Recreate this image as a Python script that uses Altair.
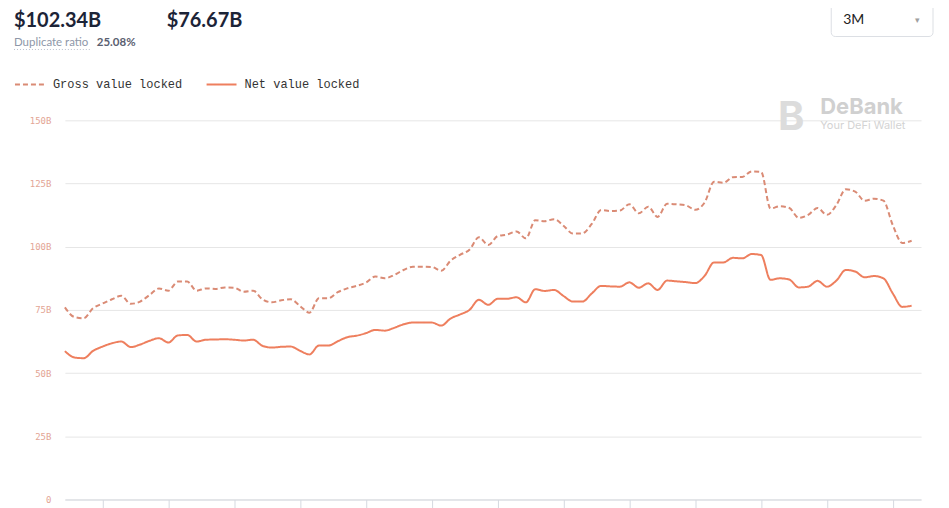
import altair as alt
import pandas as pd

days = list(range(91))
gross = [76.0, 72.2, 71.7, 75.7, 77.5, 79.2, 80.6, 77.4, 78.3, 80.9,
         83.5, 82.6, 86.2, 86.2, 82.6, 83.5, 83.3, 83.9, 83.8, 82.2,
         82.6, 79.2, 78.0, 78.8, 79.2, 76.5, 73.9, 79.6, 79.6, 82.0,
         83.5, 84.5, 85.8, 88.2, 87.5, 88.8, 90.8, 92.1, 92.1, 92.0,
         90.5, 94.5, 96.8, 98.8, 103.7, 100.7, 104.2, 104.8, 106.0, 103.3,
         110.5, 110.1, 110.9, 108.3, 105.2, 105.3, 109.0, 114.5, 114.1, 114.3,
         116.8, 113.2, 115.8, 111.8, 117.0, 116.8, 116.4, 114.6, 117.5, 125.7,
         125.3, 127.5, 127.6, 129.8, 129.6, 115.1, 116.0, 115.3, 111.4, 112.6,
         115.3, 112.6, 116.5, 122.7, 121.8, 118.2, 119.0, 118.2, 108.5, 101.5,
         102.34]
net = [58.7, 56.2, 55.9, 58.8, 60.5, 61.8, 62.5, 60.3, 61.3, 62.8,
       63.8, 62.1, 64.9, 65.1, 62.5, 63.2, 63.3, 63.4, 63.2, 62.9,
       63.2, 60.8, 60.1, 60.4, 60.5, 58.8, 57.4, 60.9, 60.9, 62.6,
       64.2, 64.8, 65.8, 67.1, 66.8, 67.9, 69.3, 70.0, 70.0, 70.0,
       68.8, 71.6, 73.2, 75.0, 79.0, 77.0, 79.4, 79.4, 80.0, 78.0,
       83.2, 82.5, 82.9, 80.5, 78.3, 78.3, 81.5, 84.5, 84.3, 84.2,
       85.9, 83.8, 85.5, 82.9, 86.6, 86.3, 86.0, 85.6, 88.5, 93.8,
       93.8, 95.6, 95.4, 97.1, 96.7, 86.9, 87.5, 87.0, 83.9, 84.2,
       86.5, 84.2, 86.6, 90.8, 90.2, 87.9, 88.4, 87.5, 81.5, 76.2,
       76.67]
series_names = ["Gross value locked", "Net value locked"]
series_colors = ["#DA8B75", "#EE7F5E"]
y_ticks = [0, 25, 50, 75, 100, 125, 150]
x_ticks = [4, 11, 18, 25, 32, 39, 46, 53, 60, 67, 74, 81, 88]

gross_total = "$102.34B"
net_total = "$76.67B"
dup_label = "Duplicate ratio"
dup_value = "25.08%"
range_label = "3M"

df = pd.DataFrame({
    "day": days * 2,
    "value": gross + net,
    "series": [series_names[0]] * len(days) + [series_names[1]] * len(days),
})

x_scale = alt.Scale(domain=[0, 91], nice=False, zero=False)
y_scale = alt.Scale(domain=[0, 150], nice=False)

legend_cfg = dict(title=None, orient="none", direction="horizontal",
                  legendX=-51, legendY=-52,
                  symbolType="stroke", symbolSize=900,
                  symbolStrokeWidth=2, labelFont="Liberation Mono",
                  labelFontSize=12, labelColor="#333333",
                  labelOffset=7, columnPadding=20)

lines = alt.Chart(df).mark_line(interpolate="monotone", strokeWidth=2).encode(
    x=alt.X("day:Q", scale=x_scale,
            axis=alt.Axis(title=None, values=x_ticks, grid=False, labels=False,
                          domainColor="#d5d9e0", tickColor="#d5d9e0", tickSize=8)),
    y=alt.Y("value:Q", scale=y_scale,
            axis=alt.Axis(title=None, values=y_ticks, domain=False, ticks=False,
                          gridColor="#e6e6e6", labelColor="#E3A595",
                          labelFont="DejaVu Sans Mono", labelFontSize=9,
                          labelPadding=14,
                          labelExpr="datum.value == 0 ? '0' : datum.value + 'B'")),
    color=alt.Color("series:N",
                    scale=alt.Scale(domain=series_names, range=series_colors),
                    legend=alt.Legend(**legend_cfg)),
    strokeDash=alt.StrokeDash("series:N",
                              scale=alt.Scale(domain=series_names, range=[[5, 3], [1, 0]]),
                              legend=alt.Legend(**legend_cfg)),
)

one = pd.DataFrame({"a": [0]})

def txt(text, x, y, size, color, weight="normal", font="Lato", align="left"):
    return alt.Chart(one).mark_text(text=text, fontSize=size, color=color, fontWeight=weight,
                                    font=font, align=align, baseline="alphabetic").encode(
        x=alt.value(x), y=alt.value(y))

header = [
    txt(gross_total, -51, -94, 20, "#1c2437", "bold"),
    txt(net_total, 102, -94, 20, "#1c2437", "bold"),
    txt(dup_label, -51, -74, 11.5, "#8e97a8"),
    txt(dup_value, 32, -74, 11.5, "#5a6070", "bold"),
    txt(range_label, 780, -97, 14, "#222222"),
    txt("▾", 854, -98, 9, "#a0a0a0", align="center"),
    txt("DeBank", 757, -6, 22, "#d0d0d0", "bold", font="Inter"),
    txt("Your DeFi Wallet", 757, 9, 11, "#d3d3d3", font="Inter"),
    txt("B", 728, 10, 40, "#dcdcdc", "bold", font="Inter", align="center"),
]

underline = alt.Chart(one).mark_rule(color="#b8bfcc", strokeDash=[1, 2], strokeWidth=1).encode(
    x=alt.value(-51), x2=alt.value(27), y=alt.value(-71))

dropdown = alt.Chart(one).mark_rect(fill="white", stroke="#dcdfe4", strokeWidth=1,
                                    cornerRadius=4).encode(
    x=alt.value(768), x2=alt.value(870), y=alt.value(-130), y2=alt.value(-84))

chart = alt.layer(lines, underline, dropdown, *header).properties(
    width=858, height=380,
    padding={"left": 57, "top": 112, "right": 20, "bottom": 30},
    autosize=alt.AutoSizeParams(type="none"),
).configure_view(stroke=None)

chart.save("out.html", embed_options={"renderer": "svg", "actions": False})
